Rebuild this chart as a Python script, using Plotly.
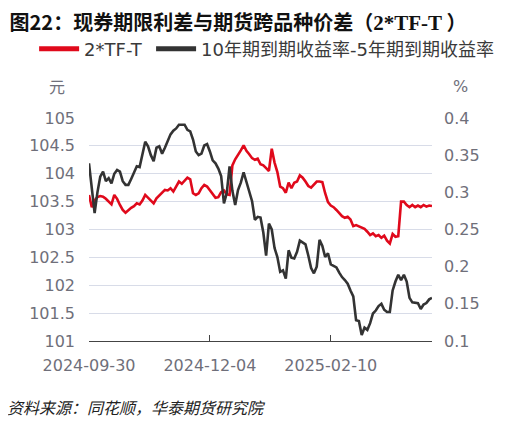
import pandas as pd
import plotly.graph_objects as go

# ---- data ----
holidays = pd.to_datetime(
    ["2024-10-01", "2024-10-02", "2024-10-03", "2024-10-04", "2024-10-07",
     "2025-01-01", "2025-01-28", "2025-01-29", "2025-01-30", "2025-01-31",
     "2025-02-03", "2025-02-04"])
makeup_days = pd.to_datetime(["2024-10-12", "2025-01-26", "2025-02-08"])
days = pd.bdate_range("2024-09-30", "2025-04-01")
days = days[~days.isin(holidays)].union(makeup_days)
dates = [d.strftime("%Y-%m-%d") for d in days]

spread_2tf_t = [
    103.62, 103.40, 103.52, 103.58, 103.60, 103.59, 103.55, 103.50, 103.45, 103.62,
    103.55, 103.44, 103.35, 103.30, 103.35, 103.39, 103.42, 103.47, 103.45, 103.52,
    103.62, 103.57, 103.52, 103.47, 103.56, 103.61, 103.66, 103.71, 103.70, 103.74,
    103.68, 103.76, 103.86, 103.82, 103.88, 103.93, 103.90, 103.65, 103.62, 103.65,
    103.74, 103.80, 103.77, 103.71, 103.64, 103.57, 103.58, 103.67, 103.70, 103.63,
    103.62, 104.15, 104.26, 104.33, 104.42, 104.51, 104.41, 104.35, 104.28, 104.25,
    104.27, 104.17, 104.15, 104.10, 104.05, 104.45, 104.20, 104.03, 103.77, 103.74,
    103.66, 103.84, 103.74, 103.84, 103.86, 103.97, 103.93, 103.86, 103.78, 103.75,
    103.81, 103.86, 103.86, 103.85, 103.65, 103.49, 103.43, 103.40, 103.35, 103.30,
    103.24, 103.21, 103.23, 103.18, 103.06, 103.08, 103.06, 103.04, 103.01, 102.96,
    102.90, 102.93, 102.88, 102.90, 102.85, 102.89, 102.80, 102.75, 102.92, 102.87,
    102.88, 103.50, 103.50, 103.44, 103.40, 103.44, 103.40, 103.43, 103.40, 103.44,
    103.41, 103.43, 103.42]

yield_spread_10y_5y = [
    0.339, 0.305, 0.272, 0.300, 0.321, 0.328, 0.315, 0.319, 0.312, 0.325,
    0.330, 0.328, 0.315, 0.310, 0.310, 0.318, 0.326, 0.335, 0.334, 0.352,
    0.368, 0.362, 0.350, 0.342, 0.360, 0.362, 0.352, 0.360, 0.368, 0.378,
    0.383, 0.386, 0.391, 0.391, 0.391, 0.384, 0.382, 0.371, 0.355, 0.350,
    0.352, 0.363, 0.365, 0.355, 0.343, 0.339, 0.332, 0.322, 0.285, 0.299,
    0.335, 0.302, 0.283, 0.303, 0.313, 0.327, 0.315, 0.302, 0.288, 0.263,
    0.267, 0.266, 0.246, 0.215, 0.258, 0.250, 0.225, 0.213, 0.193, 0.195,
    0.184, 0.222, 0.212, 0.211, 0.220, 0.235, 0.232, 0.230, 0.215, 0.198,
    0.191, 0.200, 0.236, 0.228, 0.213, 0.218, 0.203, 0.201, 0.199, 0.192,
    0.186, 0.182, 0.177, 0.168, 0.160, 0.128, 0.127, 0.108, 0.118, 0.115,
    0.124, 0.137, 0.141, 0.147, 0.150, 0.142, 0.139, 0.139, 0.168, 0.180,
    0.189, 0.182, 0.189, 0.180, 0.158, 0.152, 0.151, 0.151, 0.143, 0.149,
    0.151, 0.156, 0.158]

tick_dates = ["2024-09-30", "2024-12-04", "2025-02-10"]
names = ["2*TF-T", "10年期到期收益率-5年期到期收益率"]

RED = "#e0091b"
DARK = "#333333"
GRAY = "#6f6f7a"
FONT = "DejaVu Sans, Noto Sans CJK SC, sans-serif"

fig = go.Figure()
fig.add_trace(go.Scatter(x=dates, y=spread_2tf_t, mode="lines", name=names[0],
                         line=dict(color=RED, width=2.6), showlegend=False))
fig.add_trace(go.Scatter(x=dates, y=yield_spread_10y_5y, mode="lines", name=names[1],
                         line=dict(color=DARK, width=2.6), yaxis="y2", showlegend=False))
# legend entries (thicker swatches), one legend box each
fig.add_trace(go.Scatter(x=[None], y=[None], mode="lines", name=names[0],
                         line=dict(color=RED, width=5), legend="legend"))
fig.add_trace(go.Scatter(x=[None], y=[None], mode="lines", name=names[1],
                         line=dict(color=DARK, width=5), yaxis="y2", legend="legend2"))

legend_common = dict(orientation="h", xanchor="left", yanchor="middle", y=1.309,
                     font=dict(size=18, color="#3a3a3a", family=FONT), itemwidth=40,
                     bgcolor="rgba(0,0,0,0)")

fig.update_layout(
    width=511, height=418,
    margin=dict(l=81, r=87, t=110, b=85, autoexpand=False),
    paper_bgcolor="white", plot_bgcolor="white",
    font=dict(family=FONT, size=16, color=GRAY),
    title=dict(
        text="<b>图22：现券期限利差与期货跨品种价差（<span style=\"font-family:'Liberation Serif', 'Times New Roman', serif;font-size:21px\">2*TF-T</span> ）</b>",
        x=0.003, xanchor="left", y=0.963, yanchor="middle",
        font=dict(size=20, color="#111111", family="Noto Sans CJK SC, sans-serif")),
    legend=dict(x=-0.160, **legend_common),
    legend2=dict(x=0.181, **legend_common),
    xaxis=dict(type="category", range=[0, len(dates) - 1],
               tickvals=tick_dates + [dates[-1]], ticktext=tick_dates + [""],
               showline=True, linecolor="#444444", linewidth=1.3,
               ticks="inside", ticklen=6, tickcolor="#444444", tickwidth=1.3,
               showgrid=False, ticklabelstandoff=10, tickfont=dict(size=16, color=GRAY)),
    yaxis=dict(range=[101, 105], dtick=0.5, showgrid=True, gridcolor="#d8dce8",
               gridwidth=1, zeroline=False, ticks="", ticklabelstandoff=13,
               tickfont=dict(size=16, color=GRAY)),
    yaxis2=dict(range=[0.1, 0.4], dtick=0.05, overlaying="y", side="right",
                showgrid=False, zeroline=False, ticks="", ticklabelstandoff=11,
                tickfont=dict(size=16, color=GRAY)),
    annotations=[
        dict(text="元", xref="paper", yref="paper", x=-0.093, y=1.143,
             showarrow=False, xanchor="center", yanchor="middle",
             font=dict(size=16, color=GRAY, family="Noto Sans CJK SC")),
        dict(text="%", xref="paper", yref="paper", x=1.082, y=1.143,
             showarrow=False, xanchor="center", yanchor="middle",
             font=dict(size=16, color=GRAY)),
        dict(text="<i>资料来源：同花顺，华泰期货研究院</i>", xref="paper", yref="paper",
             x=-0.244, y=-0.296, showarrow=False, xanchor="left", yanchor="middle",
             font=dict(size=16, color="#222222", family="Noto Sans CJK SC")),
    ],
)

fig.write_html("out.html")
